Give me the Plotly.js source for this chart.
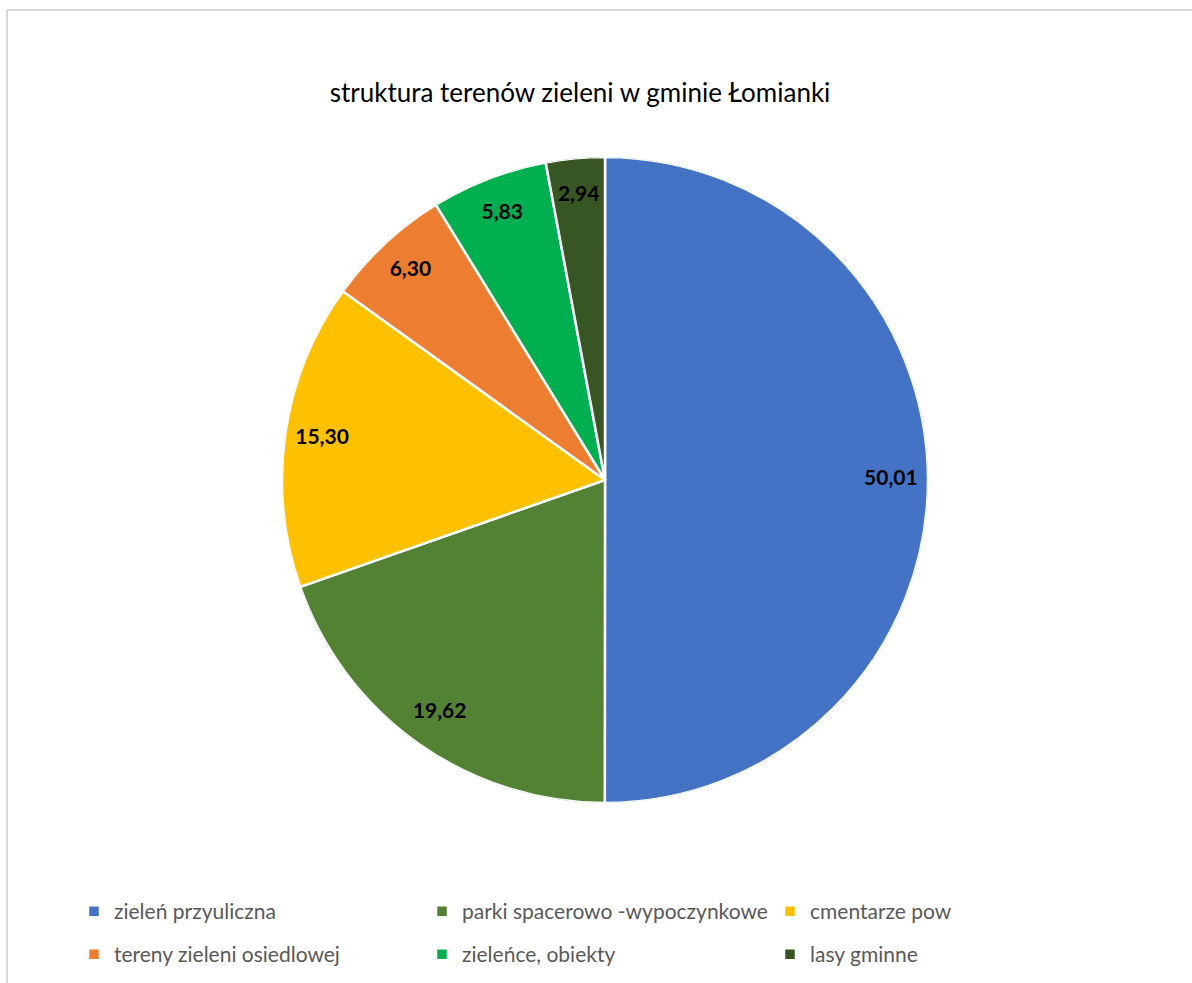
<!DOCTYPE html>
<html>
<head>
<meta charset="utf-8">
<script src="https://cdn.plot.ly/plotly-3.0.1.min.js"></script>
<style>
  html, body { margin: 0; padding: 0; background: #ffffff; }
  #chart { width: 1192px; height: 983px; }
</style>
</head>
<body>
<div id="chart"></div>
<script>
// ---- data ----
const categories = [
  "zieleń przyuliczna",
  "parki spacerowo -wypoczynkowe",
  "cmentarze pow",
  "tereny zieleni osiedlowej",
  "zieleńce, obiekty",
  "lasy gminne"
];
const values = [50.01, 19.62, 15.30, 6.30, 5.83, 2.94];
const colors = ["#4472C4", "#548235", "#FFC000", "#ED7D31", "#00B050", "#375623"];
const chartTitle = "struktura terenów zieleni w gminie Łomianki";

// ---- layout geometry (px) ----
const W = 1192, H = 983;
const cx = 605, cy = 480, R = 323;
const dom = {
  x: [(cx - R) / W, (cx + R) / W],
  y: [1 - (cy + R) / H, 1 - (cy - R) / H]
};

const total = values.reduce((a, b) => a + b, 0);
let cum = 0;
const mids = values.map(v => { const m = (cum + v / 2) / total * 360; cum += v; return m; });
const widths = values.map(v => v / total * 360);
const labelTexts = values.map(v => v.toFixed(2).replace('.', ','));

// one barpolar wedge per category (so each gets its own legend entry)
const wedges = categories.map((c, i) => ({
  type: 'barpolar',
  name: c,
  r: [1],
  theta: [mids[i]],
  width: [widths[i]],
  marker: { color: colors[i], line: { color: '#ffffff', width: 2.5 } },
  legend: i < 3 ? 'legend' : 'legend2',
  hoverinfo: 'skip'
}));

const labelsTrace = {
  type: 'scatterpolar',
  mode: 'text',
  r: values.map(() => 0.885),
  theta: mids,
  text: labelTexts,
  textfont: { family: 'Lato, sans-serif', size: 21, color: '#000000', weight: 'bold' },
  textposition: 'middle center',
  showlegend: false,
  hoverinfo: 'skip'
};

const legendCommon = {
  orientation: 'h',
  xanchor: 'left',
  yanchor: 'top',
  entrywidthmode: 'pixels',
  entrywidth: 303,
  font: { family: 'Lato, sans-serif', size: 21, color: '#595959' },
  bgcolor: 'rgba(0,0,0,0)'
};

const layout = {
  width: W, height: H,
  margin: { l: 0, r: 0, t: 0, b: 0 },
  paper_bgcolor: '#ffffff',
  font: { family: 'Lato, sans-serif' },
  title: {
    text: chartTitle,
    x: 580 / W, xanchor: 'center',
    y: 1 - 93 / H, yanchor: 'middle',
    font: { family: 'Lato, sans-serif', size: 26, color: '#000000' }
  },
  polar: {
    domain: dom,
    hole: 0,
    bgcolor: 'rgba(0,0,0,0)',
    radialaxis: { visible: false, range: [0, 1] },
    angularaxis: { visible: false, direction: 'clockwise', rotation: 90 }
  },
  showlegend: true,
  legend: Object.assign({}, legendCommon, { x: 74 / W, y: 1 - 891 / H }),
  legend2: Object.assign({}, legendCommon, { x: 74 / W, y: 1 - 934 / H }),
  shapes: [
    { type: 'line', xref: 'paper', yref: 'paper', x0: 7 / W, x1: 1.0, y0: 1 - 10 / H, y1: 1 - 10 / H,
      line: { color: '#d9d9d9', width: 2 } },
    { type: 'line', xref: 'paper', yref: 'paper', x0: 7 / W, x1: 7 / W, y0: 1 - 10 / H, y1: 0,
      line: { color: '#d9d9d9', width: 2 } }
  ]
};

Plotly.newPlot('chart', wedges.concat([labelsTrace]), layout, { displayModeBar: false, staticPlot: true });
</script>
</body>
</html>
